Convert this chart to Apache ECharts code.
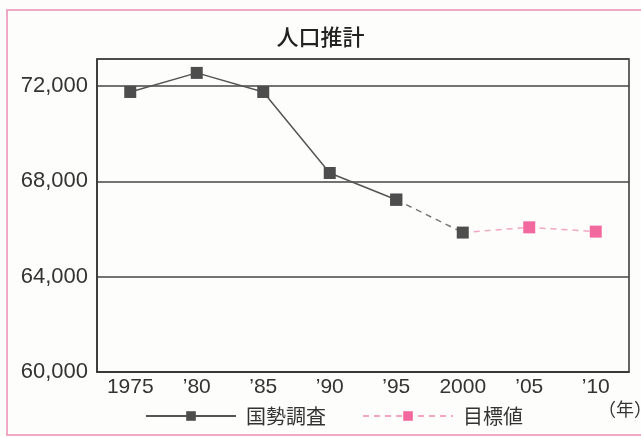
<!DOCTYPE html>
<html><head><meta charset="utf-8">
<script src="https://cdn.jsdelivr.net/npm/echarts@6/dist/echarts.min.js"></script>
<style>html,body{margin:0;padding:0;background:#fdfdfb}#c{width:641px;height:437px}</style>
</head><body><div id="c"></div>
<script>
const categories = ['1975', '’80', '’85', '’90', '’95', '2000', '’05', '’10'];
const censusValues = [71750, 72550, 71750, 68350, 67230, 65850, null, null];
const connectorValues = [null, null, null, null, 67230, 65850, null, null];
const targetValues = [null, null, null, null, null, 65850, 66070, 65890];
const yTicks = [60000, 64000, 68000, 72000];

const chart = echarts.init(document.getElementById('c'), null, {renderer: 'canvas'});
const font = '"Liberation Sans", Arial, sans-serif';
const cjk = '"Noto Sans CJK JP", sans-serif';
chart.setOption({
  backgroundColor: '#fdfdfb',
  animation: false,
  title: {text: '人口推計', left: 'center', top: 21, textStyle: {fontFamily: cjk, fontSize: 22, fontWeight: 500, color: '#222'}},
  graphic: [
    {type: 'rect', shape: {x: 7, y: 10, width: 650, height: 425}, style: {fill: 'none', stroke: '#e98fb2', lineWidth: 1.5}, z: -1},
    {type: 'text', left: 598, top: 400, style: {text: '（年）', font: '18px "Noto Sans CJK JP"', fill: '#333'}}
  ],
  grid: {left: 97, right: 12, top: 59, bottom: 65, show: true, borderColor: '#333', borderWidth: 1.5, backgroundColor: 'transparent'},
  legend: {
    data: ['国勢調査', '目標値'], left: 140, top: 401, itemWidth: 90, itemHeight: 12, itemGap: 36,
    textStyle: {fontFamily: cjk, fontSize: 20, color: '#333', padding: [0, 0, 0, 5]}
  },
  xAxis: {
    type: 'category', data: categories, boundaryGap: true,
    axisLine: {lineStyle: {color: '#333', width: 1.5}},
    axisTick: {inside: true, alignWithLabel: true, length: 7, lineStyle: {color: '#333', width: 1.2}},
    axisLabel: {fontFamily: font, fontSize: 21, color: '#333', margin: 5}
  },
  yAxis: {
    type: 'value', min: 60000, max: 73133, interval: 4000,
    axisLine: {show: true, lineStyle: {color: '#333', width: 1.5}},
    axisTick: {show: false},
    axisLabel: {showMaxLabel: false, fontFamily: font, fontSize: 22, color: '#333', margin: 9,
      formatter: v => yTicks.includes(v) ? v.toLocaleString('en-US') : ''},
    splitLine: {lineStyle: {color: '#444', width: 1.5}}
  },
  series: [
    {name: '目標値', type: 'line', data: targetValues.map((v, i) => i === 5 ? {value: v, symbol: 'none'} : v),
      symbol: 'rect', symbolSize: 12, connectNulls: false,
      itemStyle: {color: '#f2699e'}, lineStyle: {color: '#f3a6c4', width: 1.5, type: [6, 5]}, z: 2},
    {name: 'connector', type: 'line', data: connectorValues, symbol: 'rect', symbolSize: 12,
      itemStyle: {color: '#4d4d4d'}, lineStyle: {color: '#777', width: 1.5, type: [6, 5]}, z: 3},
    {name: '国勢調査', type: 'line', data: censusValues.map((v, i) => i === 5 ? null : v), symbol: 'rect', symbolSize: 12,
      itemStyle: {color: '#4d4d4d'}, lineStyle: {color: '#555', width: 1.5}, z: 4}
  ]
});
</script></body></html>
